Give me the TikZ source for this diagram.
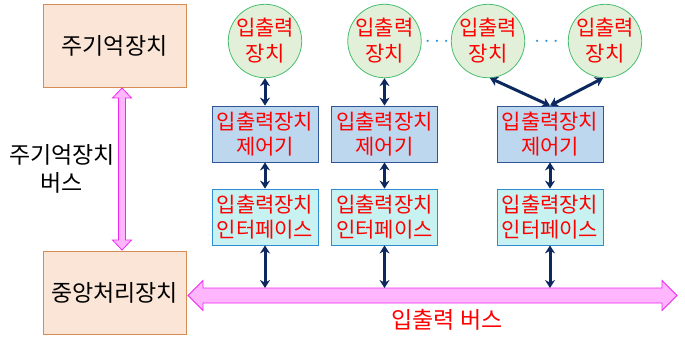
\documentclass[tikz,border=0pt]{standalone}
\usepackage{fontspec}
\setmainfont{Noto Sans CJK KR}
\usetikzlibrary{arrows.meta}
\definecolor{memorange}{RGB}{251, 229, 214}
\definecolor{memedge}{RGB}{214, 140, 82}
\definecolor{devgreen}{RGB}{226, 240, 217}
\definecolor{devedge}{RGB}{70, 190, 110}
\definecolor{ctrlblue}{RGB}{189, 215, 238}
\definecolor{ctrledge}{RGB}{47, 85, 151}
\definecolor{intfcyan}{RGB}{200, 242, 242}
\definecolor{intfedge}{RGB}{46, 140, 210}
\definecolor{busfill}{RGB}{255, 182, 255}
\definecolor{busedge}{RGB}{240, 40, 240}
\definecolor{navy}{RGB}{12, 40, 95}
\definecolor{dotblue}{RGB}{40, 140, 220}

\begin{document}
\begin{tikzpicture}[x=1pt, y=-1pt,
  unitbox/.style={draw=memedge, fill=memorange, line width=0.8pt, minimum width=143, minimum height=83,
    font=\fontsize{23}{28}\selectfont},
  devnode/.style={circle, draw=devedge, fill=devgreen, line width=0.8pt, minimum size=73, inner sep=0pt,
    align=center, text=red, font=\fontsize{21}{26}\selectfont},
  ctrlbox/.style={draw=ctrledge, fill=ctrlblue, line width=0.8pt, minimum width=106, minimum height=56,
    inner sep=0pt, align=center, text=red, font=\fontsize{21}{25}\selectfont},
  intfbox/.style={ctrlbox, draw=intfedge, fill=intfcyan},
  link/.style={navy, line width=3pt, {Stealth[length=8pt,width=10pt]}-{Stealth[length=8pt,width=10pt]}},
  fatbus/.style={draw=busedge, fill=busfill, line width=0.8pt}]
  \useasboundingbox (0,0) rectangle (685,341);

  % Main memory and CPU
  \node[unitbox] (mem) at (114.5, 46) {주기억장치};
  \node[unitbox] (cpu) at (114.5, 293) {중앙처리장치};
  \node[align=center, font=\fontsize{23}{28}\selectfont] (membuslbl) at (62, 169) {주기억장치\\버스};

  % Main memory bus
  \draw[fatbus] (122, 88) -- (131.5, 98) -- (125.5, 98) -- (125.5, 240) -- (131.5, 240) -- (122, 250)
    -- (112.5, 240) -- (118.5, 240) -- (118.5, 98) -- (112.5, 98) -- cycle;

  % I/O bus
  \draw[fatbus] (188, 295.5) -- (203, 280.5) -- (203, 288) -- (662, 288) -- (662, 280.5) -- (677, 295.5)
    -- (662, 310.5) -- (662, 303) -- (203, 303) -- (203, 310.5) -- cycle;
  \node[text=red, font=\fontsize{23}{26}\selectfont] (iobuslbl) at (447, 320) {입출력 버스};

  % I/O devices
  \foreach \n/\x in {1/265, 2/384.5, 3/488, 4/605} {
    \node[devnode] (dev\n) at (\x, 41) {입출력\\장치};
  }
  \node[text=dotblue, font=\fontsize{22}{22}\selectfont] (dots1) at (437, 42) {$\cdots$};
  \node[text=dotblue, font=\fontsize{22}{22}\selectfont] (dots2) at (546.5, 42) {$\cdots$};

  % Controllers and interfaces
  \foreach \n/\x in {1/265, 2/384.5, 3/550} {
    \node[ctrlbox] (ctrl\n) at (\x, 134) {입출력장치\\제어기};
    \node[intfbox] (intf\n) at (\x, 217) {입출력장치\\인터페이스};
    \coordinate (bus\n) at (\x, 288);
    \draw[link] (ctrl\n.south) -- (intf\n.north);
    \draw[link] (intf\n.south) -- (bus\n);
  }
  \draw[link] (dev1.south) -- (ctrl1.north);
  \draw[link] (dev2.south) -- (ctrl2.north);
  \draw[link] (dev3.-87) -- (ctrl3.north);
  \draw[link] (dev4.-93) -- (ctrl3.north);
\end{tikzpicture}
\end{document}
